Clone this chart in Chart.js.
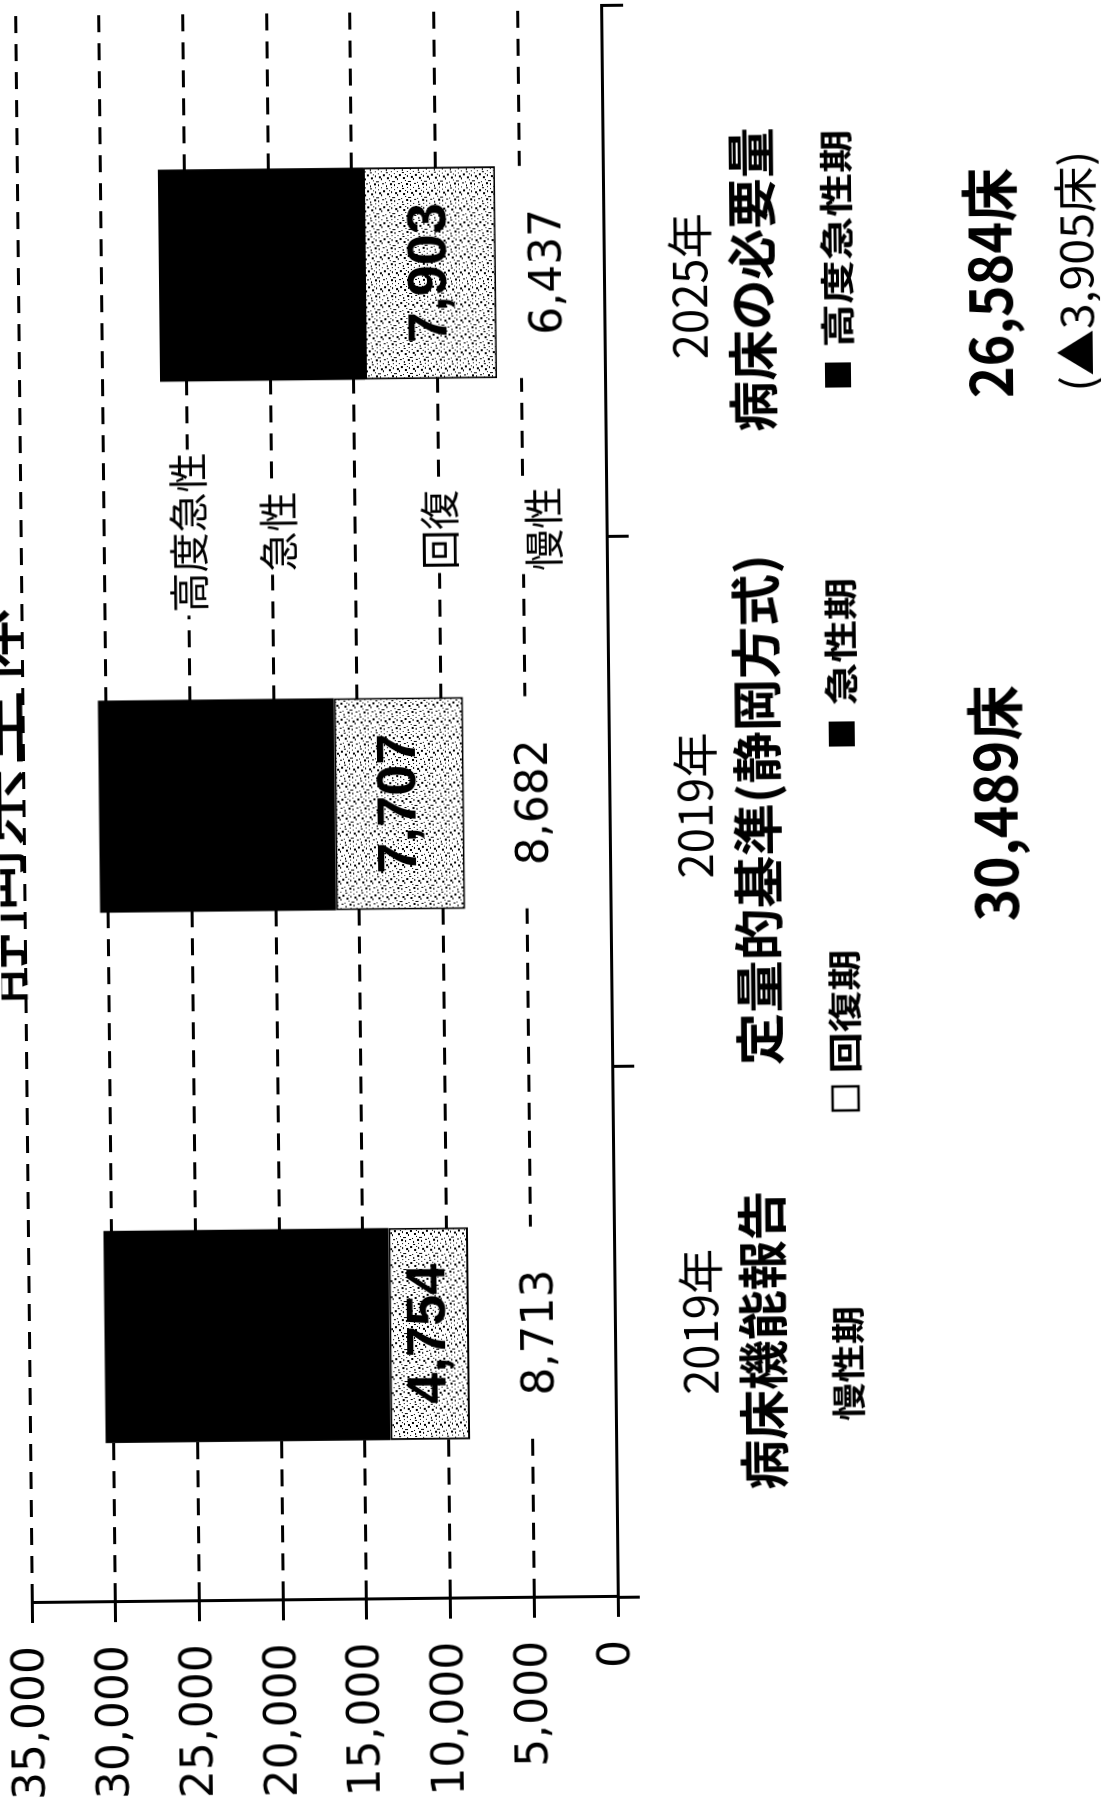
<!DOCTYPE html>
<html lang="ja">
<head>
<meta charset="utf-8">
<title>静岡県全体</title>
<script src="https://cdn.jsdelivr.net/npm/chart.js@4.4.1/dist/chart.umd.min.js"></script>
<style>
  html, body { margin: 0; padding: 0; background: #fff; width: 1106px; height: 1801px; overflow: hidden; }
  /* the chart is laid out landscape and turned a quarter turn onto the portrait page */
  #wrap { position: absolute; left: -347.5px; top: 347.5px; width: 1801px; height: 1106px;
          transform: rotate(-90.6deg); transform-origin: 50% 50%; background: #fff; }
  canvas { display: block; }
</style>
</head>
<body>
<div id="wrap"><canvas id="c" width="1801" height="1106" style="width:1801px;height:1106px"></canvas></div>
<script>
// ---- data ----
const title = '静岡県全体';
const categories = [
  ['2019年', '病床機能報告'],
  ['2019年', '定量的基準(静岡方式)'],
  ['2025年', '病床の必要量']
];
const chronic  = [8713, 8682, 6437];    // 慢性期
const recovery = [4754, 7707, 7903];    // 回復期
const acute    = [17022, 14100, 12244]; // 高度急性期＋急性期
const legendLabels = ['慢性期', '回復期', '急性期', '高度急性期'];
const segmentNames = ['高度急性', '急性', '回復', '慢性'];
const yMax = 35000;
const yStep = 5000;

// ---- helpers ----
const JP = '"Noto Sans CJK JP", "Noto Sans", sans-serif';
const NUM = '"DejaVu Sans", "Liberation Sans", sans-serif';
const fmt = n => n.toLocaleString('en-US');
const totals = categories.map((_, i) => chronic[i] + recovery[i] + acute[i]);

const canvas = document.getElementById('c');
const ctx0 = canvas.getContext('2d');

// speckled fill for the 回復期 block
function speckle() {
  const t = document.createElement('canvas');
  t.width = 16; t.height = 16;
  const g = t.getContext('2d');
  g.fillStyle = '#fff'; g.fillRect(0, 0, 16, 16);
  g.fillStyle = '#000';
  [[1,1,2,1],[5,0,1,2],[9,2,2,2],[13,1,1,1],[3,5,1,2],[7,4,2,1],[11,6,2,2],[15,4,1,1],
   [0,9,2,1],[4,8,1,1],[8,10,2,2],[14,9,1,2],[2,13,2,2],[6,12,1,1],[10,14,2,1],[12,12,1,1],
   [15,14,1,1],[5,15,1,1]]
    .forEach(([x, y, w, h]) => g.fillRect(x, y, w, h));
  return ctx0.createPattern(t, 'repeat');
}

// centred text squeezed or widened to an exact width
function fitText(ctx, s, cx, cy, w) {
  const w0 = ctx.measureText(s).width;
  ctx.save();
  ctx.translate(cx, cy);
  ctx.scale(w / w0, 1);
  ctx.textAlign = 'center';
  ctx.fillText(s, 0, 0);
  ctx.restore();
}

// text drawn around the plot: title, category names, legend, totals, segment values
const annotate = {
  id: 'annotate',
  afterDatasetsDraw(chart) {
    const { ctx, chartArea: a, scales: { x, y } } = chart;
    ctx.save();
    ctx.fillStyle = '#000';
    ctx.textAlign = 'center';
    ctx.textBaseline = 'middle';

    // title (top of the sheet, partly off the page)
    ctx.font = `84px ${JP}`;
    fitText(ctx, title, (a.left + a.right) / 2, -13, 400);

    // values inside the stacked blocks
    const m0 = chart.getDatasetMeta(0), m1 = chart.getDatasetMeta(1);
    ctx.font = `44px ${NUM}`;
    m0.data.forEach((bar, i) => {
      ctx.fillText(fmt(chronic[i]), bar.x, (bar.y + bar.base) / 2);
    });
    ctx.font = `bold 56px "Liberation Sans", Arial, sans-serif`;
    m1.data.forEach((bar, i) => {
      ctx.fillText(fmt(recovery[i]), bar.x, (bar.y + bar.base) / 2);
    });

    // block names between the 2nd and 3rd columns
    const mid = (x.getPixelForValue(1) + x.getPixelForValue(2)) / 2 + 8;
    const namePos = [25000, 19600, 10000, 3800];
    const nameW = [160, 80, 80, 84];
    ctx.font = `40px ${JP}`;
    segmentNames.forEach((s, i) => {
      const py = y.getPixelForValue(namePos[i]);
      ctx.fillStyle = '#fff';
      ctx.fillRect(mid - nameW[i] / 2 - 3, py - 22, nameW[i] + 6, 44);
      ctx.fillStyle = '#000';
      fitText(ctx, s, mid, py, nameW[i]);
    });

    // category names below the axis
    const yearShift = [9, -5, -16];
    const catW = [299, 511, 304];
    categories.forEach((c, i) => {
      const cx = x.getPixelForValue(i);
      ctx.font = `46px ${JP}`;
      fitText(ctx, c[0], cx + yearShift[i], a.bottom + 86, 146);
      ctx.font = `bold 50px ${JP}`;
      fitText(ctx, c[1], cx - 10, a.bottom + 148, catW[i]);
    });

    // legend row
    const ly = a.bottom + 233;
    const legendX = [435, 787, 1157, 1560];
    const legendW = [115, 124, 128, 218];
    const markX = [null, 700, 1064, 1423];
    ctx.font = `bold 34px ${JP}`;
    legendLabels.forEach((s, i) => {
      const mx = markX[i];
      if (i === 1) {
        ctx.fillStyle = '#fff';
        ctx.fillRect(mx - 12, ly - 13, 24, 26);
        ctx.strokeStyle = '#000'; ctx.lineWidth = 2.5;
        ctx.strokeRect(mx - 12, ly - 13, 24, 26);
      } else if (i > 1) {
        ctx.fillStyle = '#000';
        ctx.fillRect(mx - 12, ly - 13, 25, 26);
      }
      ctx.fillStyle = '#000';
      fitText(ctx, s, legendX[i], ly, legendW[i]);
    });

    // totals
    ctx.font = `bold 58px ${JP}`;
    fitText(ctx, fmt(totals[1]) + '床', x.getPixelForValue(1) - 6, a.bottom + 386, 236);
    fitText(ctx, fmt(totals[2]) + '床', x.getPixelForValue(2) - 16, a.bottom + 386, 230);
    ctx.font = `44px ${JP}`;
    fitText(ctx, '(▲' + fmt(totals[1] - totals[2]) + '床)', x.getPixelForValue(2) - 5, a.bottom + 472, 241);

    ctx.restore();
  }
};

new Chart(canvas, {
  type: 'bar',
  data: {
    labels: categories,
    datasets: [
      { label: legendLabels[0], data: chronic, backgroundColor: '#fff', borderWidth: 0 },
      { label: legendLabels[1], data: recovery, backgroundColor: speckle(), borderColor: '#000',
        borderWidth: 2, borderSkipped: false },
      { label: legendLabels[3] + '・' + legendLabels[2], data: acute, backgroundColor: '#000', borderWidth: 0 }
    ]
  },
  options: {
    responsive: false,
    animation: false,
    devicePixelRatio: 1,
    barPercentage: 0.4,
    categoryPercentage: 1.0,
    layout: { padding: { top: 24, right: 6, bottom: 474, left: 0 } },
    plugins: { legend: { display: false }, tooltip: { enabled: false } },
    scales: {
      x: {
        stacked: true,
        afterFit: s => { s.height = 22; },
        ticks: { display: false },
        grid: { display: true, drawOnChartArea: false, drawTicks: true, offset: true,
                tickLength: 22, tickWidth: 3, tickColor: '#000', color: '#000', lineWidth: 3 },
        border: { display: true, color: '#000', width: 3 }
      },
      y: {
        stacked: true,
        min: 0, max: yMax,
        afterFit: s => { s.width = 204; s.paddingTop = 0; s.paddingBottom = 0; },
        ticks: { stepSize: yStep, padding: 23, color: '#000',
                 font: { family: NUM, size: 44 }, callback: v => fmt(v) },
        grid: { color: '#000', lineWidth: 3, tickLength: 20, tickWidth: 3, tickColor: '#000' },
        border: { display: true, color: '#000', width: 3, dash: [17, 11] }
      }
    }
  },
  plugins: [annotate]
});
</script>
</body>
</html>
